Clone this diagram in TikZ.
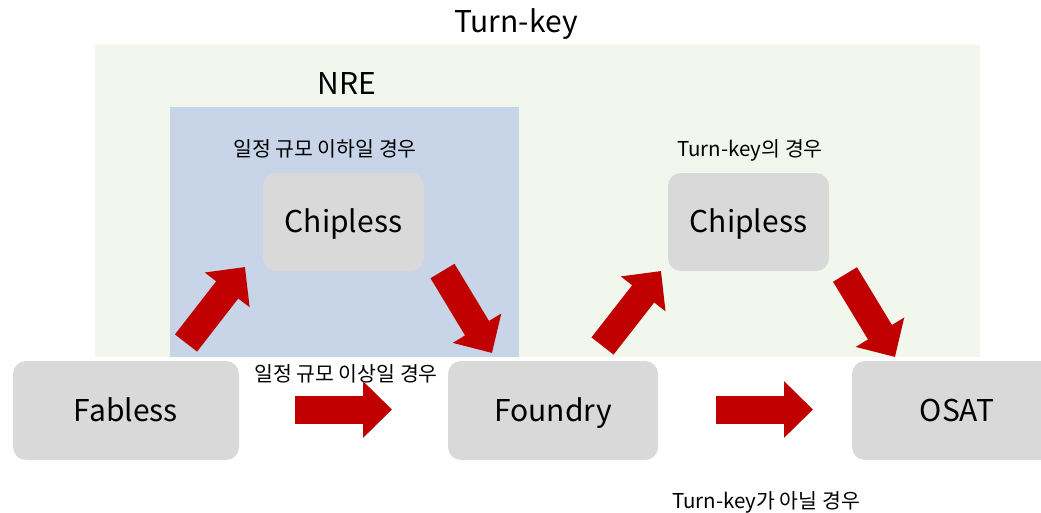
\documentclass[tikz,border=0pt]{standalone}
\usepackage{fontspec}
\setmainfont{Noto Sans CJK KR}
\usetikzlibrary{arrows.meta}
\definecolor{turnkeybg}{HTML}{F2F7EE}
\definecolor{nrebg}{HTML}{C8D5E8}
\definecolor{boxgray}{HTML}{D9D9D9}
\definecolor{arrowred}{HTML}{C00000}
\tikzset{
  stage/.style={fill=boxgray, rounded corners=13pt},
  fixedline/.style={inner sep=0pt, text height=0.78em, text depth=0.18em},
  stagelabel/.style={fixedline, font=\fontsize{30}{34}\selectfont},
  caption/.style={fixedline, font=\fontsize{20.5}{24}\selectfont},
  heading/.style={fixedline, font=\fontsize{30}{34}\selectfont},
  blockarrow/.style={draw=arrowred, line width=28pt,
    -{Triangle[width=55pt,length=29pt,fill=arrowred]}}
}
\begin{document}
\begin{tikzpicture}[x=1pt,y=-1pt]
\useasboundingbox (0,0) rectangle (1041,512);
% background regions
\fill[turnkeybg] (95,45) rectangle (980,357);
\fill[nrebg] (170,107) rectangle (519,357);
\node[heading] (turnkey) at (516,29) {Turn-key};
\node[heading] (nre) at (347,91) {NRE};
% stage boxes
\fill[stage] (263,173) rectangle (424,271);
\node[stagelabel] (chip1) at (343.5,229) {Chipless};
\fill[stage] (668,173) rectangle (829,271);
\node[stagelabel] (chip2) at (748.5,229) {Chipless};
\fill[stage] (13,361) rectangle (239,460);
\node[stagelabel] (fab) at (126,418) {Fabless};
\fill[stage] (448,361) rectangle (658,460);
\node[stagelabel] (found) at (553,418) {Foundry};
\fill[stage] (852,361) rectangle (1070,460);
\node[stagelabel] (osat) at (957,418) {OSAT};
% captions
\node[caption] (c1) at (325,153) {일정 규모 이하일 경우};
\node[caption] (c2) at (750,153) {Turn-key의 경우};
\node[caption] (c3) at (346,378) {일정 규모 이상일 경우};
\node[caption] (c4) at (766,505) {Turn-key가 아닐 경우};
% arrow end points
\coordinate (a1s) at (186,343);   \coordinate (a1e) at (245,267);
\coordinate (a2s) at (442.5,271); \coordinate (a2e) at (492,353);
\coordinate (a3s) at (295,409.5); \coordinate (a3e) at (392,409.5);
\coordinate (a4s) at (602.5,346); \coordinate (a4e) at (661,271);
\coordinate (a5s) at (845,274.5); \coordinate (a5e) at (895,357);
\coordinate (a6s) at (716,409.5); \coordinate (a6e) at (813,409.5);
\draw[blockarrow] (a1s) -- (a1e);
\draw[blockarrow] (a2s) -- (a2e);
\draw[blockarrow] (a3s) -- (a3e);
\draw[blockarrow] (a4s) -- (a4e);
\draw[blockarrow] (a5s) -- (a5e);
\draw[blockarrow] (a6s) -- (a6e);
\end{tikzpicture}
\end{document}
